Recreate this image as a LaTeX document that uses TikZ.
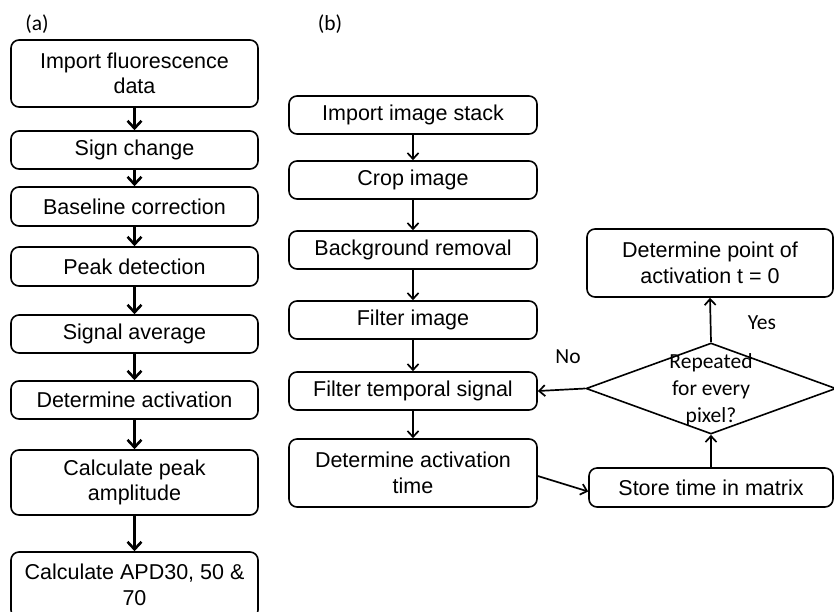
\documentclass[tikz,border=0pt]{standalone}
\usepackage{fontspec}
\setmainfont{Liberation Sans}
\newfontfamily\calfont{Carlito}
\usetikzlibrary{arrows.meta,shapes.geometric}
\begin{document}
\begin{tikzpicture}[x=1pt,y=-1pt,
 box/.style={draw,line width=1.6pt,rounded corners=8pt,align=center,inner sep=2pt,font=\fontsize{21.5}{25.5}\selectfont},
 lbox/.style={box,minimum width=247pt},
 rbox/.style={box,minimum width=248pt},
 thickarr/.style={line width=2.6pt,-{Straight Barb[length=7.5pt,width=14pt]}},
 thinarr/.style={line width=1.7pt,-{Straight Barb[length=6pt,width=11pt]}},
 lbl/.style={font=\calfont\fontsize{21.5}{27}\selectfont,inner sep=0pt,align=center}]
\useasboundingbox (0,0) rectangle (834,611);
\clip (0,0) rectangle (834,611);

% (a) column
\node[lbox,minimum height=67pt] (a1) at (134.5,73.5) {Import fluorescence\\data};
\node[lbox,minimum height=38pt] (a2) at (134.5,150) {Sign change};
\node[lbox,minimum height=39pt] (a3) at (134.5,206.5) {Baseline correction};
\node[lbox,minimum height=39pt] (a4) at (134.5,266.5) {Peak detection};
\node[lbox,minimum height=38pt] (a5) at (134.5,334) {Signal average};
\node[lbox,minimum height=38pt] (a6) at (134.5,400) {Determine activation};
\node[lbox,minimum height=65pt] (a7) at (134.5,482.5) {Calculate peak\\amplitude};
\node[lbox,minimum height=66pt] (a8) at (134.5,585) {Calculate APD30, 50 \&\\[1pt]70};

\foreach \u/\v in {a1/a2,a2/a3,a3/a4,a4/a5,a5/a6,a6/a7,a7/a8}
  \draw[thickarr] (\u.south) -- (\v.north);

% (b) column
\node[rbox,minimum height=38pt] (b1) at (413,115) {Import image stack};
\node[rbox,minimum height=38pt] (b2) at (413,180) {Crop image};
\node[rbox,minimum height=38pt] (b3) at (413,250) {Background removal};
\node[rbox,minimum height=38pt] (b4) at (413,320) {Filter image};
\node[rbox,minimum height=38pt] (b5) at (413,391) {Filter temporal signal};
\node[box,minimum width=248pt,minimum height=68pt] (b6) at (413,473) {Determine activation\\time};

\foreach \u/\v in {b1/b2,b2/b3,b3/b4,b4/b5,b5/b6}
  \draw[thinarr] (\u.south) -- (\v.north);

\node[box,minimum width=244pt,minimum height=39pt] (s) at (711,487.5) {Store time in matrix};
\node[box,minimum width=246pt,minimum height=68pt] (p) at (710,263) {Determine point of\\activation t = 0};
\node[draw,diamond,line width=1.6pt,minimum width=250pt,minimum height=91pt,inner sep=0pt] (d) at (711,388.5) {};
\node[lbl] (dt) at (711,390) {Repeated\\for every\\pixel?};

\draw[thinarr] ([yshift=-3pt]b6.east) -- ([yshift=-4pt]s.west);
\draw[thinarr] (s.north) -- (d.south);
\draw[thinarr] (d.north) -- (p.south);
\draw[thinarr] (d.west) -- (b5.east);

\node[lbl] (yes) at (762,323) {Yes};
\node[lbl] (no) at (568,357) {No};
\node[lbl] (la) at (37,24) {(a)};
\node[lbl] (lb) at (330,24) {(b)};
\end{tikzpicture}
\end{document}
